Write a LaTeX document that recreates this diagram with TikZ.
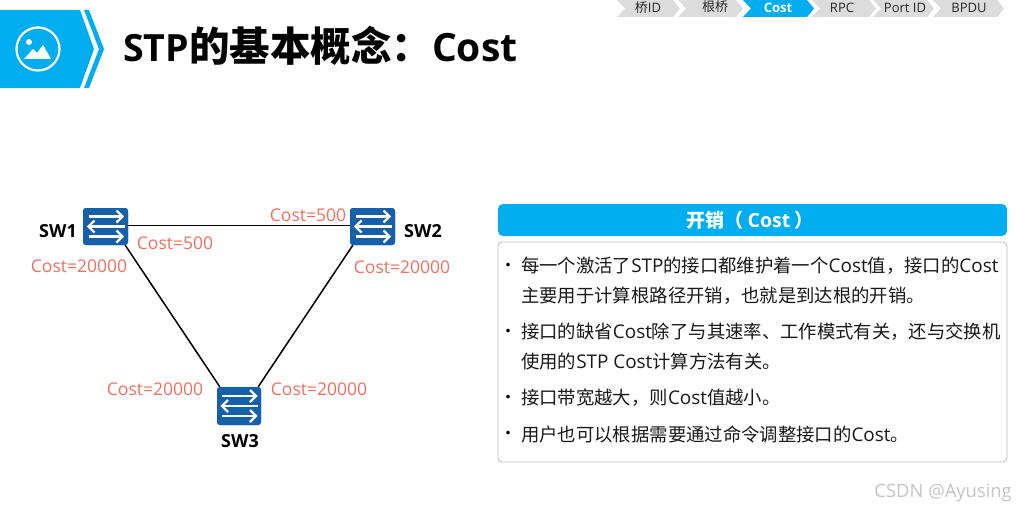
\documentclass[tikz,border=0pt]{standalone}
\usepackage{fontspec}
\setmainfont{Noto Sans CJK SC}
\newfontfamily\latinf{Open Sans}
\newfontfamily\latinb[Scale=1.03]{Open Sans}
\newcommand{\lt}[1]{{\latinb #1}}
\definecolor{hwblue}{HTML}{00AEEF}
\definecolor{swblue}{HTML}{1560A8}
\definecolor{crumb}{HTML}{DCDCDC}
\definecolor{costred}{HTML}{F0705F}
\definecolor{boxgray}{HTML}{BDBDBD}
\definecolor{marktext}{HTML}{C4C4C4}
\tikzset{
  x=1pt,y=-1pt,
  swbox/.style={draw=none,fill=swblue,rounded corners=3pt,minimum width=45pt,minimum height=37pt,inner sep=0pt},
  swlabel/.style={font=\fontsize{18}{20}\selectfont\latinf\bfseries,inner sep=0pt,text=black},
  costlabel/.style={font=\fontsize{17.5}{20}\selectfont\latinf,text=costred,inner sep=0pt},
  bodyline/.style={font=\fontsize{18.35}{20}\selectfont,anchor=west,inner sep=0pt,text=black!90},
  crumbtext/.style={font=\fontsize{13}{15}\selectfont\latinf,inner sep=0pt,text=black!85},
  link/.style={line width=1.5pt,black},
  swarrow/.style={white,line width=2.2pt}
}
\newcommand{\swarrows}[1]{%
  \draw[swarrow] ([shift={(-17,-10)}]#1.center) -- ([shift={(16,-10)}]#1.center);
  \draw[swarrow] ([shift={(11,-16)}]#1.center) -- ([shift={(17,-10)}]#1.center) -- ([shift={(11,-4)}]#1.center);
  \draw[swarrow] ([shift={(-16,0)}]#1.center) -- ([shift={(19,0)}]#1.center);
  \draw[swarrow] ([shift={(-11,-6)}]#1.center) -- ([shift={(-17,0)}]#1.center) -- ([shift={(-11,6)}]#1.center);
  \draw[swarrow] ([shift={(-17,10)}]#1.center) -- ([shift={(16,10)}]#1.center);
  \draw[swarrow] ([shift={(11,4)}]#1.center) -- ([shift={(17,10)}]#1.center) -- ([shift={(11,16)}]#1.center);
}
\newcommand{\crumbshape}[3]{\fill[#3] (#1,0) -- (#2,0) -- ({#2+7},8.5) -- (#2,17) -- (#1,17) -- ({#1+8},8.5) -- cycle;}
\begin{document}
\begin{tikzpicture}
\useasboundingbox (0,0) rectangle (1016,511);
\fill[white] (0,0) rectangle (1016,511);
% header
\fill[hwblue] (0,10) -- (80,10) -- (94,49) -- (80,88) -- (0,88) -- cycle;
\fill[hwblue] (84,10) -- (89,10) -- (104,49) -- (89,88) -- (84,88) -- (99,49) -- cycle;
\draw[white,line width=2.2pt] (38,49) circle (21.5);
\fill[white] (29,42) circle (3);
\fill[white] (24,59) -- (33,49) -- (37,53) -- (43,45) -- (51,59) -- cycle;
\node[anchor=west,inner sep=0pt,font=\fontsize{40.5}{42}\selectfont\bfseries] (title) at (123,45.5) {{\fontsize{37.5}{40}\selectfont\latinf\bfseries STP}的基本概念：{\fontsize{39}{42}\selectfont\latinf\bfseries Cost}};
% breadcrumb
\crumbshape{617}{673}{crumb}
\crumbshape{678}{736}{crumb}
\crumbshape{743}{807}{hwblue}
\crumbshape{812}{869}{crumb}
\crumbshape{873}{927}{crumb}
\crumbshape{933}{997}{crumb}
\node[crumbtext] (c1) at (648,8) {{\fontsize{13}{15}\selectfont\rmfamily 桥}ID};
\node[crumbtext] (c2) at (715,6.5) {{\rmfamily 根桥}};
\node[crumbtext,text=white,font=\fontsize{13}{15}\selectfont\latinf\bfseries] (c3) at (778,8) {Cost};
\node[crumbtext] (c4) at (842,8) {RPC};
\node[crumbtext] (c5) at (905,8) {Port ID};
\node[crumbtext] (c6) at (969,8) {BPDU};
% topology
\node[swbox] (sw1) at (105.5,226.5) {};
\node[swbox] (sw2) at (372.5,226.5) {};
\node[swbox,minimum width=44pt,minimum height=38pt] (sw3) at (239,406) {};
\draw[link] ([yshift=1pt]sw1.center) -- ([yshift=1pt]sw2.center);
\draw[link] ([xshift=-3pt]sw1.south east) -- ([xshift=3pt]sw3.north west);
\draw[link] ([xshift=3pt]sw2.south west) -- ([xshift=-3pt]sw3.north east);
\node[swbox] at (sw1) {};
\node[swbox] at (sw2) {};
\node[swbox,minimum width=44pt,minimum height=38pt] at (sw3) {};
\swarrows{sw1}\swarrows{sw2}\swarrows{sw3}
\node[swlabel] (l1) at (58,231) {SW1};
\node[swlabel] (l2) at (423,231) {SW2};
\node[swlabel] (l3) at (240,441) {SW3};
\node[costlabel] (a) at (175,243) {Cost=500};
\node[costlabel] (b) at (308,215) {Cost=500};
\node[costlabel] (d) at (79,266) {Cost=20000};
\node[costlabel] (e) at (402,267) {Cost=20000};
\node[costlabel] (f) at (155,389) {Cost=20000};
\node[costlabel] (g) at (319,389) {Cost=20000};
% panel
\node[fill=hwblue,rounded corners=5pt,minimum width=509pt,minimum height=32pt,inner sep=0pt] (head) at (752.5,220) {};
\node[inner sep=0pt,font=\fontsize{19}{22}\selectfont\bfseries,text=white] (headtext) at (750,220) {开销（ \lt{\bfseries Cost} ）};
\node[draw=boxgray,line width=0.9pt,rounded corners=4pt,minimum width=509pt,minimum height=220pt,inner sep=0pt] (panel) at (752.5,352) {};
\foreach \yy/\i in {267/1,333/2,399/3,435/4}{\node[inner sep=0pt,font=\fontsize{17}{20}\selectfont] (dot\i) at (508,\yy) {•};}
\node[bodyline] (t1) at (521,266) {每一个激活了\lt{STP}的接口都维护着一个\lt{Cost}值，接口的\lt{Cost}};
\node[bodyline] (t2) at (521,296) {主要用于计算根路径开销，也就是到达根的开销。};
\node[bodyline] (t3) at (521,332) {接口的缺省\lt{Cost}除了与其速率、工作模式有关，还与交换机};
\node[bodyline] (t4) at (521,362) {使用的\lt{STP Cost}计算方法有关。};
\node[bodyline] (t5) at (521,398) {接口带宽越大，则\lt{Cost}值越小。};
\node[bodyline] (t6) at (521,434) {用户也可以根据需要通过命令调整接口的\lt{Cost}。};
\node[anchor=east,inner sep=0pt,font=\fontsize{18.4}{20}\selectfont\latinf,text=marktext] (wm) at (1012,493) {CSDN @Ayusing};
\end{tikzpicture}
\end{document}
